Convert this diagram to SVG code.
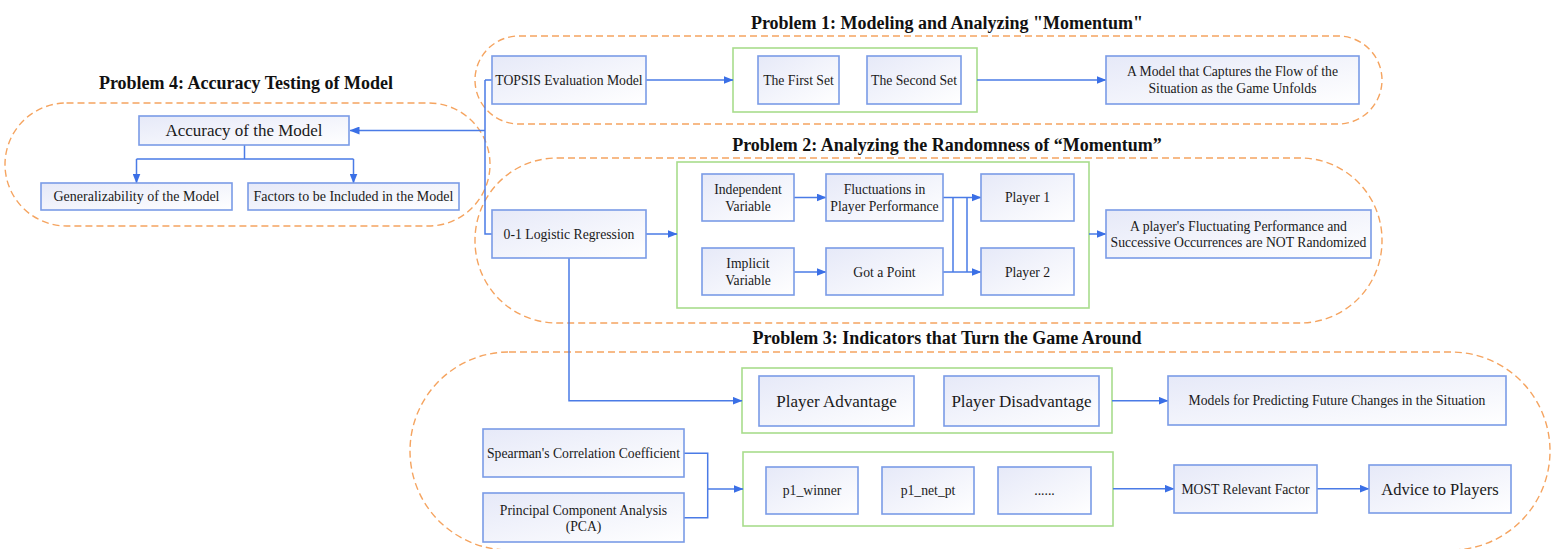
<svg xmlns="http://www.w3.org/2000/svg" width="1551" height="549" viewBox="0 0 1551 549">
<style>
.t{font-family:"Liberation Serif","Times New Roman",serif;fill:#1a1a1a;text-anchor:middle;dominant-baseline:central}
.s{font-size:13.7px}
.sm{font-size:14px}
.l{font-size:17px}
.h{font-family:"Liberation Serif","Times New Roman",serif;font-weight:bold;font-size:18px;fill:#111;text-anchor:middle}
.box{fill:url(#bf);stroke:#7a9be6;stroke-width:1.6}
.grp{fill:none;stroke:#a8dc8c;stroke-width:1.6}
.cont{fill:none;stroke:#f5a460;stroke-width:1.4;stroke-dasharray:7 4}
.c{fill:none;stroke:#4a7be6;stroke-width:1.5}
.a{marker-end:url(#arr)}
</style>
<defs>
<linearGradient id="bf" x1="0" y1="0" x2="1" y2="1">
<stop offset="0" stop-color="#e6e9f8"/>
<stop offset="1" stop-color="#ffffff"/>
</linearGradient>
<marker id="arr" markerWidth="10" markerHeight="8" refX="9.5" refY="4" orient="auto" markerUnits="userSpaceOnUse">
<path d="M0,0 L10,4 L0,8 z" fill="#3a6fe6"/>
</marker>
</defs>

<g id="containers">
<rect class="cont" x="5" y="103" width="485" height="123" rx="61.5" ry="61.5"/>
<rect class="cont" x="475" y="36" width="907" height="88" rx="44" ry="44"/>
<rect class="cont" x="475" y="158" width="907" height="165" rx="82" ry="82"/>
<rect class="cont" x="410" y="352" width="1140" height="198" rx="99" ry="99"/>
</g>

<g id="titles">
<text class="h" x="246" y="89">Problem 4: Accuracy Testing of Model</text>
<text class="h" x="947" y="29">Problem 1: Modeling and Analyzing "Momentum"</text>
<text class="h" x="947" y="151">Problem 2: Analyzing the Randomness of “Momentum”</text>
<text class="h" x="947" y="344">Problem 3: Indicators that Turn the Game Around</text>
</g>

<g id="groups">
<rect id="green1" class="grp" x="733" y="48" width="244" height="64"/>
<rect id="green2" class="grp" x="677" y="162" width="412" height="146"/>
<rect id="green3a" class="grp" x="742" y="368" width="370" height="65"/>
<rect id="green3b" class="grp" x="743" y="452" width="370" height="74"/>
</g>

<g id="connectors">
<path class="c" d="M485,80 H492"/>
<path class="c" d="M485,80 V234 H492"/>
<path class="c a" d="M485,130.5 H350"/>
<path class="c" d="M244.5,145 V159 M136.5,159 H353.5"/>
<path class="c a" d="M136.5,159 V183"/>
<path class="c a" d="M353.5,159 V183"/>
<path class="c a" d="M646,80 H733"/>
<path class="c a" d="M977,80 H1106"/>
<path class="c a" d="M646,234 H677"/>
<path class="c a" d="M794,197.5 H826"/>
<path class="c a" d="M794,272 H826"/>
<path class="c a" d="M943,197.5 H981"/>
<path class="c a" d="M943,272 H981"/>
<path class="c" d="M953,197.5 V272 M967,197.5 V272"/>
<path class="c a" d="M1089,234 H1106"/>
<path class="c a" d="M569,258 V400.7 H742"/>
<path class="c a" d="M1112,400.7 H1168"/>
<path class="c" d="M684,453.3 H707.7 V517.7 H684"/>
<path class="c a" d="M707.7,489 H743"/>
<path class="c a" d="M1113,488.7 H1174"/>
<path class="c a" d="M1317,488.7 H1369"/>
</g>

<g id="n-acc"><rect class="box" x="139" y="116" width="210" height="29"/><text class="t l" x="244" y="130.5">Accuracy of the Model</text></g>
<g id="n-gen"><rect class="box" x="41" y="183" width="191" height="27"/><text class="t sm" x="136.5" y="196.5">Generalizability of the Model</text></g>
<g id="n-fac"><rect class="box" x="248" y="183" width="211" height="27"/><text class="t sm" x="353.5" y="196.5">Factors to be Included in the Model</text></g>

<g id="n-topsis"><rect class="box" x="492" y="56" width="154" height="48"/><text class="t s" x="569" y="80">TOPSIS Evaluation Model</text></g>
<g id="n-first"><rect class="box" x="758" y="56" width="81" height="48"/><text class="t s" x="798.5" y="80">The First Set</text></g>
<g id="n-second"><rect class="box" x="867" y="56" width="94" height="48"/><text class="t s" x="914" y="80">The Second Set</text></g>
<g id="n-p1out"><rect class="box" x="1106" y="56" width="253" height="48"/><text class="t s" x="1232.5" y="71.7">A Model that Captures the Flow of the</text><text class="t s" x="1232.5" y="88.3">Situation as the Game Unfolds</text></g>

<g id="n-logit"><rect class="box" x="492" y="210" width="154" height="48"/><text class="t s" x="569" y="234">0-1 Logistic Regression</text></g>
<g id="n-indep"><rect class="box" x="702" y="174" width="92" height="47"/><text class="t s" x="748" y="189.3">Independent</text><text class="t s" x="748" y="206">Variable</text></g>
<g id="n-fluct"><rect class="box" x="826" y="174" width="117" height="47"/><text class="t s" x="884.5" y="189.3">Fluctuations in</text><text class="t s" x="884.5" y="206">Player Performance</text></g>
<g id="n-implicit"><rect class="box" x="702" y="248" width="92" height="47"/><text class="t s" x="748" y="263.5">Implicit</text><text class="t s" x="748" y="280">Variable</text></g>
<g id="n-got"><rect class="box" x="826" y="248" width="117" height="47"/><text class="t s" x="884.5" y="272">Got a Point</text></g>
<g id="n-player1"><rect class="box" x="981" y="174" width="93" height="47"/><text class="t s" x="1027.5" y="197.5">Player 1</text></g>
<g id="n-player2"><rect class="box" x="981" y="248" width="93" height="47"/><text class="t s" x="1027.5" y="272">Player 2</text></g>
<g id="n-p2out"><rect class="box" x="1106" y="210" width="265" height="48"/><text class="t s" x="1238.5" y="226">A player's Fluctuating Performance and</text><text class="t s" x="1238.5" y="242.3">Successive Occurrences are NOT Randomized</text></g>

<g id="n-padv"><rect class="box" x="759" y="376" width="155" height="50"/><text class="t l" x="836.5" y="401">Player Advantage</text></g>
<g id="n-pdis"><rect class="box" x="944" y="376" width="155" height="50"/><text class="t l" x="1021.5" y="401">Player Disadvantage</text></g>
<g id="n-models"><rect class="box" x="1168" y="376" width="338" height="49"/><text class="t s" x="1337" y="400.5">Models for Predicting Future Changes in the Situation</text></g>
<g id="n-spear"><rect class="box" x="483" y="429" width="201" height="48"/><text class="t s" x="583.5" y="453">Spearman's Correlation Coefficient</text></g>
<g id="n-pca"><rect class="box" x="483" y="493" width="201" height="49"/><text class="t s" x="583.5" y="510">Principal Component Analysis</text><text class="t s" x="583.5" y="526.7">(PCA)</text></g>
<g id="n-p1w"><rect class="box" x="766" y="467" width="92" height="47"/><text class="t s" x="812" y="490.5">p1_winner</text></g>
<g id="n-p1n"><rect class="box" x="882" y="467" width="92" height="47"/><text class="t s" x="928" y="490.5">p1_net_pt</text></g>
<g id="n-dots"><rect class="box" x="998" y="467" width="93" height="47"/><text class="t s" x="1044.5" y="490.5">......</text></g>
<g id="n-most"><rect class="box" x="1174" y="465" width="143" height="48"/><text class="t s" x="1245.5" y="489">MOST Relevant Factor</text></g>
<g id="n-advice"><rect class="box" x="1369" y="465" width="142" height="48"/><text class="t" style="font-size:16.5px" x="1440" y="489">Advice to Players</text></g>
</svg>
